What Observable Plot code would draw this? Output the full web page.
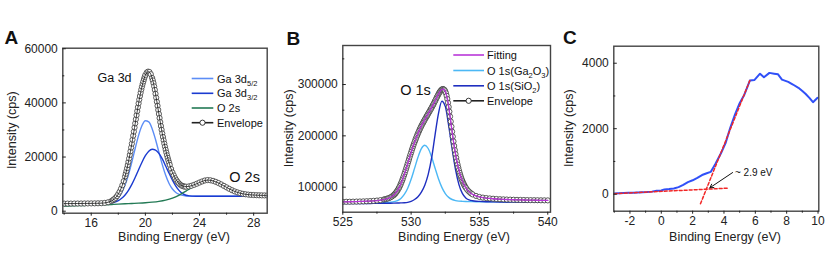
<!DOCTYPE html>
<html><head><meta charset="utf-8">
<script src="https://cdn.jsdelivr.net/npm/d3@7"></script>
<script src="https://cdn.jsdelivr.net/npm/@observablehq/plot@0.6"></script>
<style>
html,body{margin:0;padding:0;background:#fff;}
#fig{position:relative;width:830px;height:262px;overflow:hidden;font-family:"Liberation Sans",Arial,sans-serif;}
.panel{position:absolute;top:0;}
#overlay{position:absolute;left:0;top:0;pointer-events:none;}
</style></head><body>
<div id="fig"></div>
<script>
// ---------- Panel A: Ga 3d / O 2s (binding energy eV, intensity cps) ----------
const gaD52 = [[14,2650],[15,2680],[16,2700],[16.5,2712],[17,2794],[17.25,2952],[17.5,3281],[17.75,3908],[18,5039],[18.25,6885],[18.5,9649],[18.75,13462],[19,18135],[19.25,23239],[19.5,28010],[19.75,31638],[20,33406],[20.25,32965],[20.5,30457],[20.75,26463],[21,21786],[21.25,17185],[21.5,13252],[21.75,10252],[22,8201],[22.25,6926],[22.5,6201],[22.75,5820],[23,5636],[23.25,5553],[23.5,5520],[23.75,5505],[24,5500],[24.5,5500],[25,5500],[26,5500],[27,5500],[28,5500],[29,5500]];
const gaD32 = [[14,2650],[15,2680],[16,2702],[16.5,2713],[17,2771],[17.25,2872],[17.5,3059],[17.75,3383],[18,3926],[18.25,4763],[18.5,5983],[18.75,7704],[19,9895],[19.25,12509],[19.5,15328],[19.75,18099],[20,20488],[20.25,22169],[20.5,22900],[20.75,22599],[21,21338],[21.25,19319],[21.5,16700],[21.75,14000],[22,11500],[22.25,9300],[22.5,7600],[22.75,6500],[23,5900],[23.25,5650],[23.5,5560],[23.75,5520],[24,5505],[24.5,5500],[25,5500],[26,5500],[27,5500],[28,5500],[29,5500]];
const gaO2s = [[14,1900],[14.5,1975],[15,2050],[15.5,2125],[16,2200],[16.5,2300],[17,2400],[17.5,2500],[18,2600],[18.5,2725],[19,2850],[19.5,2975],[20,3129],[20.5,3339],[21,3637],[21.5,4105],[22,4850],[22.5,5969],[23,7407],[23.5,8962],[24,10284],[24.5,11004],[25,10892],[25.5,10096],[26,8912],[26.5,7694],[27,6734],[27.5,6130],[28,5838],[28.5,5733],[29,5746]];
const gaEnvelope = [[14,2800],[14.25,2810],[14.5,2820],[14.75,2830],[15,2840],[15.25,2850],[15.5,2860],[15.75,2870],[16,2885],[16.25,2900],[16.5,2925],[16.75,2965],[17,3065],[17.25,3304],[17.5,3790],[17.6,4091],[17.7,4474],[17.8,4961],[17.9,5569],[18,6315],[18.1,7222],[18.2,8310],[18.3,9599],[18.4,11101],[18.5,12832],[18.55,13800],[18.6,14817],[18.65,15900],[18.7,17037],[18.75,18230],[18.8,19475],[18.85,20780],[18.9,22119],[18.95,23510],[19,24932],[19.05,26400],[19.1,27892],[19.15,29400],[19.2,30926],[19.25,32450],[19.3,33976],[19.35,35480],[19.4,36969],[19.45,38420],[19.5,39846],[19.55,41220],[19.6,42530],[19.65,43770],[19.7,44946],[19.75,46020],[19.8,47026],[19.85,47910],[19.9,48800],[19.95,49600],[20,50300],[20.1,51200],[20.2,51550],[20.3,51400],[20.4,50600],[20.5,49200],[20.55,48300],[20.6,47300],[20.65,46100],[20.7,44800],[20.75,43350],[20.8,41900],[20.85,40400],[20.9,38900],[20.95,37400],[21,35900],[21.05,34400],[21.1,32900],[21.15,31450],[21.2,30050],[21.25,28700],[21.3,27400],[21.35,26150],[21.4,24950],[21.45,23800],[21.5,22700],[21.55,21650],[21.6,20650],[21.65,19700],[21.7,18800],[21.75,17950],[21.8,17100],[21.9,15600],[22,14300],[22.1,13200],[22.2,12200],[22.3,11400],[22.4,10700],[22.5,10150],[22.6,9700],[22.7,9400],[22.8,9200],[22.9,9080],[23,9050],[23.2,9150],[23.4,9400],[23.6,9750],[23.8,10150],[24,10600],[24.2,11000],[24.4,11350],[24.6,11500],[24.8,11420],[25,11200],[25.2,10850],[25.4,10400],[25.6,9900],[25.8,9350],[26,8800],[26.2,8250],[26.4,7750],[26.6,7300],[26.8,6950],[27,6650],[27.2,6420],[27.4,6250],[27.6,6120],[27.8,6030],[28,5970],[28.2,5920],[28.4,5880],[28.6,5850],[28.8,5830],[29,5820]];
const aXTicks = [16, 20, 24, 28];
const aXMinor = [14, 18, 22, 26];
const aYTicks = [0, 20000, 40000, 60000];
const aYMinor = [10000, 30000, 50000];
const aNotes = [{x: 17.72, y: 49200, text: "Ga 3d", size: 12.5}, {x: 27.33, y: 12560, text: "O 2s", size: 14.5}];

// ---------- Panel B: O 1s ----------
const oGa2O3 = [[525,68860],[526,69000],[527,69270],[527.5,69500],[528,69830],[528.25,70180],[528.5,70720],[528.75,71780],[529,73940],[529.25,78140],[529.5,85880],[529.75,97960],[530,115370],[530.25,136620],[530.5,158230],[530.75,175070],[531,181600],[531.25,175370],[531.5,158830],[531.75,137520],[532,116570],[532.25,99610],[532.5,87580],[532.75,80140],[533,76040],[533.25,73930],[533.5,72920],[533.75,72430],[534,72130],[534.25,71950],[534.5,71800],[534.75,71700],[535,71620],[535.5,71500],[536,71400],[537,71310],[538,71260],[539,71200],[540,71160]];
const oSiO2 = [[525,68100],[526,68180],[527,68340],[527.5,68460],[528,68620],[528.25,68720],[528.5,68830],[528.75,68990],[529,69170],[529.25,69370],[529.5,69650],[529.75,70500],[530,72500],[530.25,76000],[530.5,81500],[530.75,90500],[531,104000],[531.25,125000],[531.5,157000],[531.75,201600],[532,243350],[532.25,267500],[532.5,257470],[532.75,220090],[533,174970],[533.25,134190],[533.5,105110],[533.75,87880],[534,79110],[534.25,75270],[534.5,73580],[534.75,72725],[535,72350],[535.5,71770],[536,71390],[537,71020],[538,70820],[539,70730],[540,70760]];
const oEnvelope = [[525,71500],[525.25,71600],[525.5,71700],[525.75,71850],[526,72000],[526.25,72200],[526.5,72400],[526.75,72700],[527,73000],[527.25,73450],[527.5,74000],[527.75,74800],[528,76000],[528.1,76600],[528.2,77300],[528.3,78100],[528.4,79100],[528.5,80400],[528.6,82000],[528.7,84000],[528.75,85200],[528.8,86500],[528.85,88000],[528.9,89700],[528.95,91500],[529,93500],[529.05,95700],[529.1,98100],[529.15,100800],[529.2,103700],[529.25,106800],[529.3,110100],[529.35,113600],[529.4,117200],[529.45,121000],[529.5,125000],[529.55,129000],[529.6,133200],[529.65,137500],[529.7,141800],[529.75,146100],[529.8,150500],[529.85,154900],[529.9,159300],[529.95,163600],[530,167900],[530.05,172100],[530.1,176200],[530.15,180200],[530.2,184000],[530.25,187700],[530.3,191300],[530.35,194800],[530.4,198200],[530.45,201500],[530.5,204700],[530.55,207800],[530.6,210800],[530.65,213700],[530.7,216500],[530.75,219200],[530.8,221800],[530.85,224300],[530.9,226800],[530.95,229200],[531,231600],[531.05,234000],[531.1,236300],[531.15,238600],[531.2,240900],[531.25,243200],[531.3,245500],[531.35,247800],[531.4,250100],[531.45,252500],[531.5,254900],[531.55,257400],[531.6,259900],[531.65,262500],[531.7,265100],[531.75,267800],[531.8,270500],[531.85,273200],[531.9,275900],[531.95,278500],[532,281000],[532.05,283400],[532.1,285600],[532.15,287500],[532.2,289100],[532.25,290300],[532.3,291000],[532.35,291000],[532.4,290200],[532.45,289000],[532.5,286600],[532.55,282900],[532.6,278000],[532.65,271800],[532.7,264500],[532.75,256200],[532.8,247200],[532.85,237700],[532.9,227900],[532.95,218000],[533,208200],[533.05,198500],[533.1,189200],[533.15,180400],[533.2,172200],[533.25,164400],[533.3,157200],[533.35,150400],[533.4,144200],[533.45,138400],[533.5,133100],[533.55,128100],[533.6,123600],[533.65,119400],[533.7,115500],[533.75,112100],[533.8,109000],[533.85,106100],[533.9,103500],[533.95,101100],[534,99000],[534.1,95300],[534.2,92300],[534.3,89800],[534.4,87700],[534.5,86000],[534.75,83000],[535,81000],[535.25,79700],[535.5,78800],[535.75,78100],[536,77500],[536.25,77000],[536.5,76600],[536.75,76300],[537,76000],[537.25,75750],[537.5,75550],[537.75,75350],[538,75200],[538.25,75050],[538.5,74900],[538.75,74800],[539,74700],[539.25,74600],[539.5,74500],[539.75,74400],[540,74300]];
const bXTicks = [525, 530, 535, 540];
const bXMinor = [527.5, 532.5, 537.5];
const bYTicks = [100000, 200000, 300000];
const bYMinor = [150000, 250000, 350000];
const bNotes = [{x: 530.32, y: 288300, text: "O 1s", size: 14.5}];

// ---------- Panel C: valence band ----------
const vbSpectrum = [[-3,20],[-2.7,28],[-2.4,35],[-2.1,40],[-1.8,45],[-1.5,52],[-1.2,58],[-0.9,65],[-0.6,78],[-0.3,105],[0,112],[0.2,145],[0.5,155],[0.8,175],[1.1,215],[1.4,285],[1.7,370],[2,425],[2.3,500],[2.6,585],[2.9,640],[3.15,680],[3.45,920],[3.8,1240],[4.1,1560],[4.4,2030],[4.7,2430],[5,2780],[5.3,3040],[5.65,3470],[5.95,3490],[6.3,3680],[6.55,3570],[6.9,3705],[7.2,3680],[7.45,3660],[7.7,3500],[8.1,3430],[8.4,3350],[8.75,3250],[9,3150],[9.2,3066],[9.45,2940],[9.68,2810],[9.97,2943]];
const vbBaselineFit = [[-3,15],[4.21,183]];
const vbEdgeFit = [[2.5,-294],[5.65,3472]];
const cXTicks = [-2, 0, 2, 4, 6, 8, 10];
const cXMinor = [-3, -1, 1, 3, 5, 7, 9];
const cYTicks = [0, 2000, 4000];
const cYMinor = [1000, 3000];
const cArrow = [{x1: 4.55, y1: 660, x2: 3.1, y2: 195}];
const cNotes = [{x: 4.7, y: 641, text: "~ 2.9 eV", size: 10}];

// ---------- legends / titles ----------
const legendA = [{label: "Ga 3d_{5/2}", color: "#5c8df6"}, {label: "Ga 3d_{3/2}", color: "#1b3bd0"}, {label: "O 2s", color: "#237a55"}, {label: "Envelope", color: "#222", dot: true}];
const legendB = [{label: "Fitting", color: "#b936d9"}, {label: "O 1s(Ga_{2}O_{3})", color: "#4cb8f5"}, {label: "O 1s(SiO_{2})", color: "#1f2fc0"}, {label: "Envelope", color: "#222", dot: true}];

const FONT = '"Liberation Sans", Arial, sans-serif';
const X = d => d[0], Y = d => d[1];

function panel({left, width, margins, xDomain, yDomain, xMajor, xMinor, yMajor, yMinor, marks}) {
  const svg = Plot.plot({
    width, height: 262,
    marginLeft: margins[0], marginTop: margins[1], marginRight: margins[2], marginBottom: margins[3],
    x: {domain: xDomain}, y: {domain: yDomain},
    style: {fontFamily: FONT, fontSize: "12px", color: "#222", background: "transparent", overflow: "visible"},
    marks: [
      ...marks,
      Plot.frame({stroke: "#444", strokeWidth: 1.4}),
      Plot.axisX(xMajor, {tickSize: 3, tickPadding: 2, label: null, tickFormat: d => String(d)}),
      Plot.axisX(xMinor, {tickSize: 2, fill: "none", label: null}),
      Plot.axisY(yMajor, {tickSize: 0, tickPadding: 5, label: null, tickFormat: d => String(d)}),
      Plot.axisY(yMajor, {tickSize: -3.5, fill: "none", label: null}),
      Plot.axisY(yMinor, {tickSize: -2, fill: "none", label: null})
    ]
  });
  const div = document.createElement("div");
  div.className = "panel";
  div.style.left = left + "px";
  div.appendChild(svg);
  document.getElementById("fig").appendChild(div);
}

panel({
  left: 0, width: 280, margins: [62.3, 47.7, 13.3, 49.3],
  xDomain: [13.9, 29], yDomain: [-740, 60200],
  xMajor: aXTicks, xMinor: aXMinor, yMajor: aYTicks, yMinor: aYMinor,
  marks: [
    Plot.line(gaD52, {x: X, y: Y, stroke: "#5c8df6", strokeWidth: 1.4, curve: "monotone-x"}),
    Plot.line(gaD32, {x: X, y: Y, stroke: "#1b3bd0", strokeWidth: 1.4, curve: "monotone-x"}),
    Plot.line(gaO2s, {x: X, y: Y, stroke: "#237a55", strokeWidth: 1.4, curve: "monotone-x"}),
    Plot.dot(gaEnvelope, {x: X, y: Y, r: 2.6, fill: "white", stroke: "#333", strokeWidth: 0.8, clip: true}),
    Plot.line(gaEnvelope, {x: X, y: Y, stroke: "#111", strokeWidth: 0.8, clip: true}),
    Plot.text(aNotes, {x: "x", y: "y", text: "text", fontSize: d => d.size, fill: "#111"})
  ]
});

panel({
  left: 280, width: 280, margins: [62.3, 45, 10, 50.3],
  xDomain: [525, 540.2], yDomain: [51300, 376000],
  xMajor: bXTicks, xMinor: bXMinor, yMajor: bYTicks, yMinor: bYMinor,
  marks: [
    Plot.line(oGa2O3, {x: X, y: Y, stroke: "#4cb8f5", strokeWidth: 1.4, curve: "monotone-x"}),
    Plot.line(oSiO2, {x: X, y: Y, stroke: "#1f2fc0", strokeWidth: 1.4, curve: "monotone-x"}),
    Plot.dot(oEnvelope, {x: X, y: Y, r: 2.6, fill: "white", stroke: "#333", strokeWidth: 0.8, clip: true}),
    Plot.line(oEnvelope, {x: X, y: Y, stroke: "#111", strokeWidth: 0.8, clip: true}),
    Plot.line(oEnvelope, {x: X, y: Y, stroke: "#b936d9", strokeWidth: 1.3, clip: true}),
    Plot.text(bNotes, {x: "x", y: "y", text: "text", fontSize: d => d.size, fill: "#111"})
  ]
});

panel({
  left: 550, width: 280, margins: [63.3, 45.7, 11.7, 51.3],
  xDomain: [-3.03, 10.05], yDomain: [-520, 4520],
  xMajor: cXTicks, xMinor: cXMinor, yMajor: cYTicks, yMinor: cYMinor,
  marks: [
    Plot.line(vbSpectrum, {x: X, y: Y, stroke: "#3050f8", strokeWidth: 2}),
    Plot.line(vbBaselineFit, {x: X, y: Y, stroke: "#f22626", strokeWidth: 1.5, strokeDasharray: "3,2"}),
    Plot.line(vbEdgeFit, {x: X, y: Y, stroke: "#f22626", strokeWidth: 1.5, strokeDasharray: "3,2"}),
    Plot.arrow(cArrow, {x1: "x1", y1: "y1", x2: "x2", y2: "y2", stroke: "#111", strokeWidth: 1, headLength: 6}),
    Plot.text(cNotes, {x: "x", y: "y", text: "text", fontSize: d => d.size, textAnchor: "start", fill: "#111"})
  ]
});

// ---------- overlay: panel letters, axis titles, legends ----------
function richText(label) {
  const parts = label.split(/_\{([^}]*)\}/);
  let out = "", shifted = false;
  parts.forEach((p, i) => {
    if (!p) return;
    if (i % 2 === 1) { out += `<tspan dy="3" font-size="7.5">${p}</tspan>`; shifted = true; }
    else { out += `<tspan dy="${shifted ? -3 : 0}">${p}</tspan>`; shifted = false; }
  });
  return out;
}
function legend(entries, rows, x1, x2, tx) {
  return entries.map((e, i) => {
    const y = rows[i];
    let s = `<line x1="${x1}" x2="${x2}" y1="${y}" y2="${y}" stroke="${e.color}" stroke-width="1.6"/>`;
    if (e.dot) s += `<circle cx="${(x1 + x2) / 2}" cy="${y}" r="2.6" fill="white" stroke="#222" stroke-width="0.9"/>`;
    s += `<text x="${tx}" y="${y + 4}" font-size="11" fill="#111">${richText(e.label)}</text>`;
    return s;
  }).join("");
}
let ov = `<svg id="overlay" width="830" height="262" xmlns="http://www.w3.org/2000/svg" font-family="Liberation Sans, Arial, sans-serif">`;
ov += `<text x="4.5" y="44.3" font-size="19" font-weight="bold" fill="#111">A</text>`;
ov += `<text x="286.5" y="45" font-size="19" font-weight="bold" fill="#111">B</text>`;
ov += `<text x="563" y="44.3" font-size="19" font-weight="bold" fill="#111">C</text>`;
[[174, 130.2, 16], [454, 128.3, 292.5], [725, 128.2, 572.5]].forEach(([cx, cy, bx]) => {
  ov += `<text x="${cx}" y="241" text-anchor="middle" font-size="12.5" fill="#222">Binding Energy (eV)</text>`;
  ov += `<text transform="translate(${bx},${cy}) rotate(-90)" text-anchor="middle" font-size="12.5" fill="#222">Intensity (cps)</text>`;
});
ov += legend(legendA, [78.5, 93.3, 108, 122.7], 191.7, 213.3, 217);
ov += legend(legendB, [55, 70.5, 85.8, 100.8], 453.3, 484, 487);
ov += `</svg>`;
document.getElementById("fig").insertAdjacentHTML("beforeend", ov);
</script>
</body></html>
